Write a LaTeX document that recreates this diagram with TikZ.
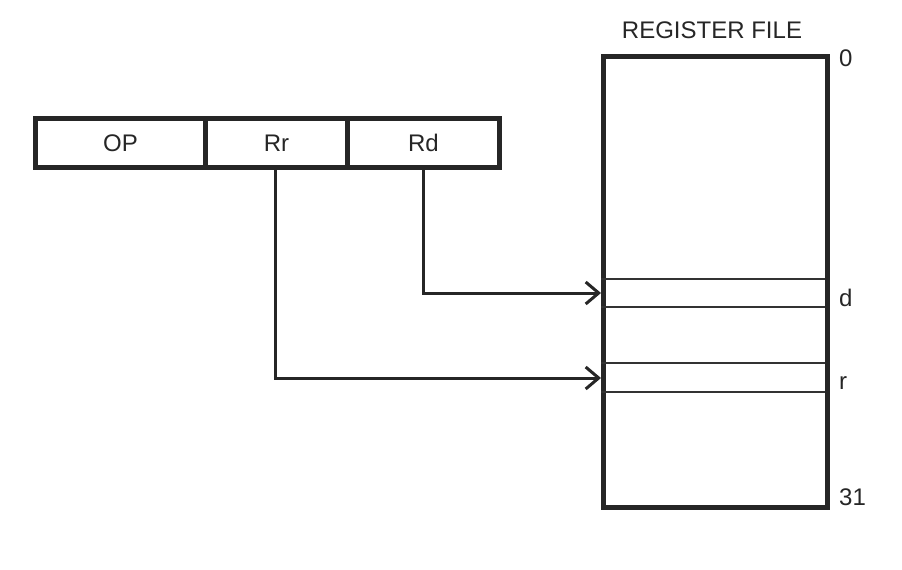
\documentclass[tikz,border=0pt]{standalone}
\usepackage{fontspec}
\setmainfont{Liberation Sans}
\usetikzlibrary{arrows.meta}
\begin{document}
\begin{tikzpicture}[x=1pt,y=-1pt,
  thick box/.style={draw=black!85,line width=5pt},
  row line/.style={draw=black!80,line width=1.8pt},
  wire/.style={draw=black!85,line width=3pt,
    -{Straight Barb[length=13pt,width=22pt,line width=3pt]}},
  lbl/.style={font=\fontsize{24}{28}\selectfont,text=black!85,inner sep=0pt}]
\useasboundingbox (0,0) rectangle (902,570);
% instruction word fields
\node[thick box,minimum width=170pt,minimum height=49pt,inner sep=0pt,anchor=north west,lbl] (op) at (33,116) {OP};
\node[thick box,minimum width=142pt,minimum height=49pt,inner sep=0pt,anchor=north west,lbl] (rr) at (203,116) {Rr};
\node[thick box,minimum width=152pt,minimum height=49pt,inner sep=0pt,anchor=north west,lbl] (rd) at (345,116) {Rd};
% register file
\node[thick box,minimum width=224pt,minimum height=451pt,inner sep=0pt,anchor=north west] (rf) at (601,54) {};
\node[lbl] (title) at (712,30) {REGISTER FILE};
% selected rows
\draw[row line] (601,279) -- (825,279);
\draw[row line] (601,307) -- (825,307);
\draw[row line] (601,363) -- (825,363);
\draw[row line] (601,392) -- (825,392);
\coordinate (drow) at (601,293);
\coordinate (rrow) at (601,378);
% index labels
\node[lbl,anchor=west] (i0) at (839,58) {0};
\node[lbl,anchor=west] (id) at (839,298) {d};
\node[lbl,anchor=west] (ir) at (839,383) {r};
\node[lbl,anchor=west] (i31) at (839,497) {31};
% field connectors
\draw[wire] (rd.south -| 423,0) |- (drow);
\draw[wire] (rr.south -| 275,0) |- (rrow);
\end{tikzpicture}
\end{document}
